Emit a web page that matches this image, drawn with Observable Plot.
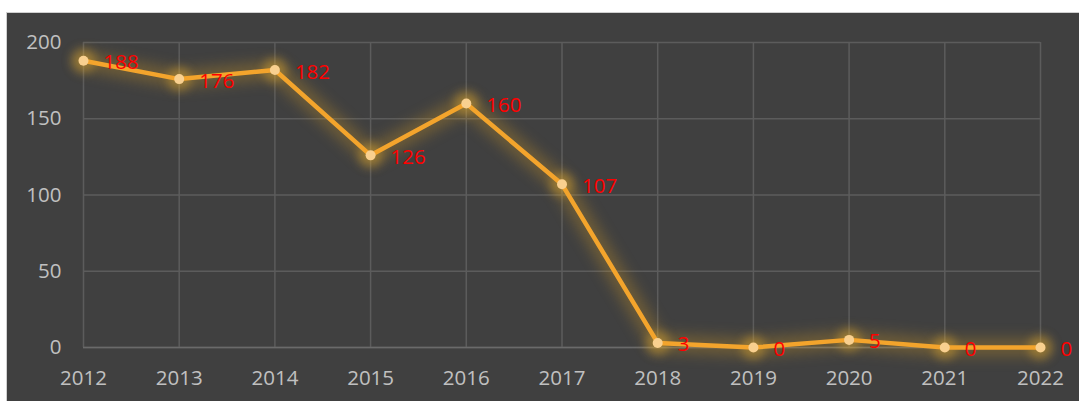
<!DOCTYPE html>
<html>
<head>
<meta charset="utf-8">
<script src="https://cdn.jsdelivr.net/npm/d3@7"></script>
<script src="https://cdn.jsdelivr.net/npm/@observablehq/plot@0.6"></script>
<style>
  html, body { margin: 0; padding: 0; background: #ffffff; overflow: hidden; }
  #frame { margin-left: 6px; margin-top: 12px; border-top: 1px solid #d0d0d0; border-left: 1px solid #d0d0d0; background: #404040; width: 1072px; height: 388px; }
  #frame svg { display: block; }
</style>
</head>
<body>
<div id="frame"></div>
<script>
const years = [2012, 2013, 2014, 2015, 2016, 2017, 2018, 2019, 2020, 2021, 2022];
const values = [188, 176, 182, 126, 160, 107, 3, 0, 5, 0, 0];
const yTicks = [0, 50, 100, 150, 200];

const data = years.map((y, i) => ({year: y, value: values[i]}));

const font = "'Open Sans', 'Noto Sans', sans-serif";

const chart = Plot.plot({
  width: 1072,
  height: 388,
  marginLeft: 76,
  marginRight: 39,
  marginTop: 29,
  marginBottom: 54,
  style: { background: "#404040", color: "#c0c0c0", fontFamily: font, fontSize: "20.5px" },
  x: { domain: [2012, 2022], ticks: years, tickFormat: "d", label: null, tickSize: 0, tickPadding: 23 },
  y: { domain: [0, 200], ticks: yTicks, label: null, tickSize: 0, tickPadding: 22 },
  marks: [
    Plot.gridX(years, { stroke: "#5c5c5c", strokeOpacity: 1, strokeWidth: 1.5 }),
    Plot.gridY(yTicks, { stroke: "#5c5c5c", strokeOpacity: 1, strokeWidth: 1.5 }),
    Plot.ruleY([0], { stroke: "#6a6a6a", strokeWidth: 1.5 }),
    // glow layer
    Plot.line(data, { x: "year", y: "value", stroke: "#d9a020", strokeWidth: 18, strokeOpacity: 0.3, curve: "linear" }),
    Plot.dot(data, { x: "year", y: "value", r: 12, fill: "#e8b030", fillOpacity: 0.4 }),
    // main
    Plot.line(data, { x: "year", y: "value", stroke: "#f3a42c", strokeWidth: 4.5, curve: "linear" }),
    Plot.dot(data, { x: "year", y: "value", r: 5, fill: "#f9d08f" }),
    Plot.text(data, { x: "year", y: "value", text: d => String(d.value), dx: 20, dy: 2, textAnchor: "start", fill: "#ff0000", fontSize: 20.5, fontFamily: font })
  ]
});

// apply blur to glow layers
const gs = chart.querySelectorAll('g[aria-label="line"], g[aria-label="dot"]');
if (gs.length >= 2) {
  gs[0].style.filter = "blur(7px)";
  gs[1].style.filter = "blur(5px)";
}
document.getElementById("frame").appendChild(chart);
</script>
</body>
</html>
